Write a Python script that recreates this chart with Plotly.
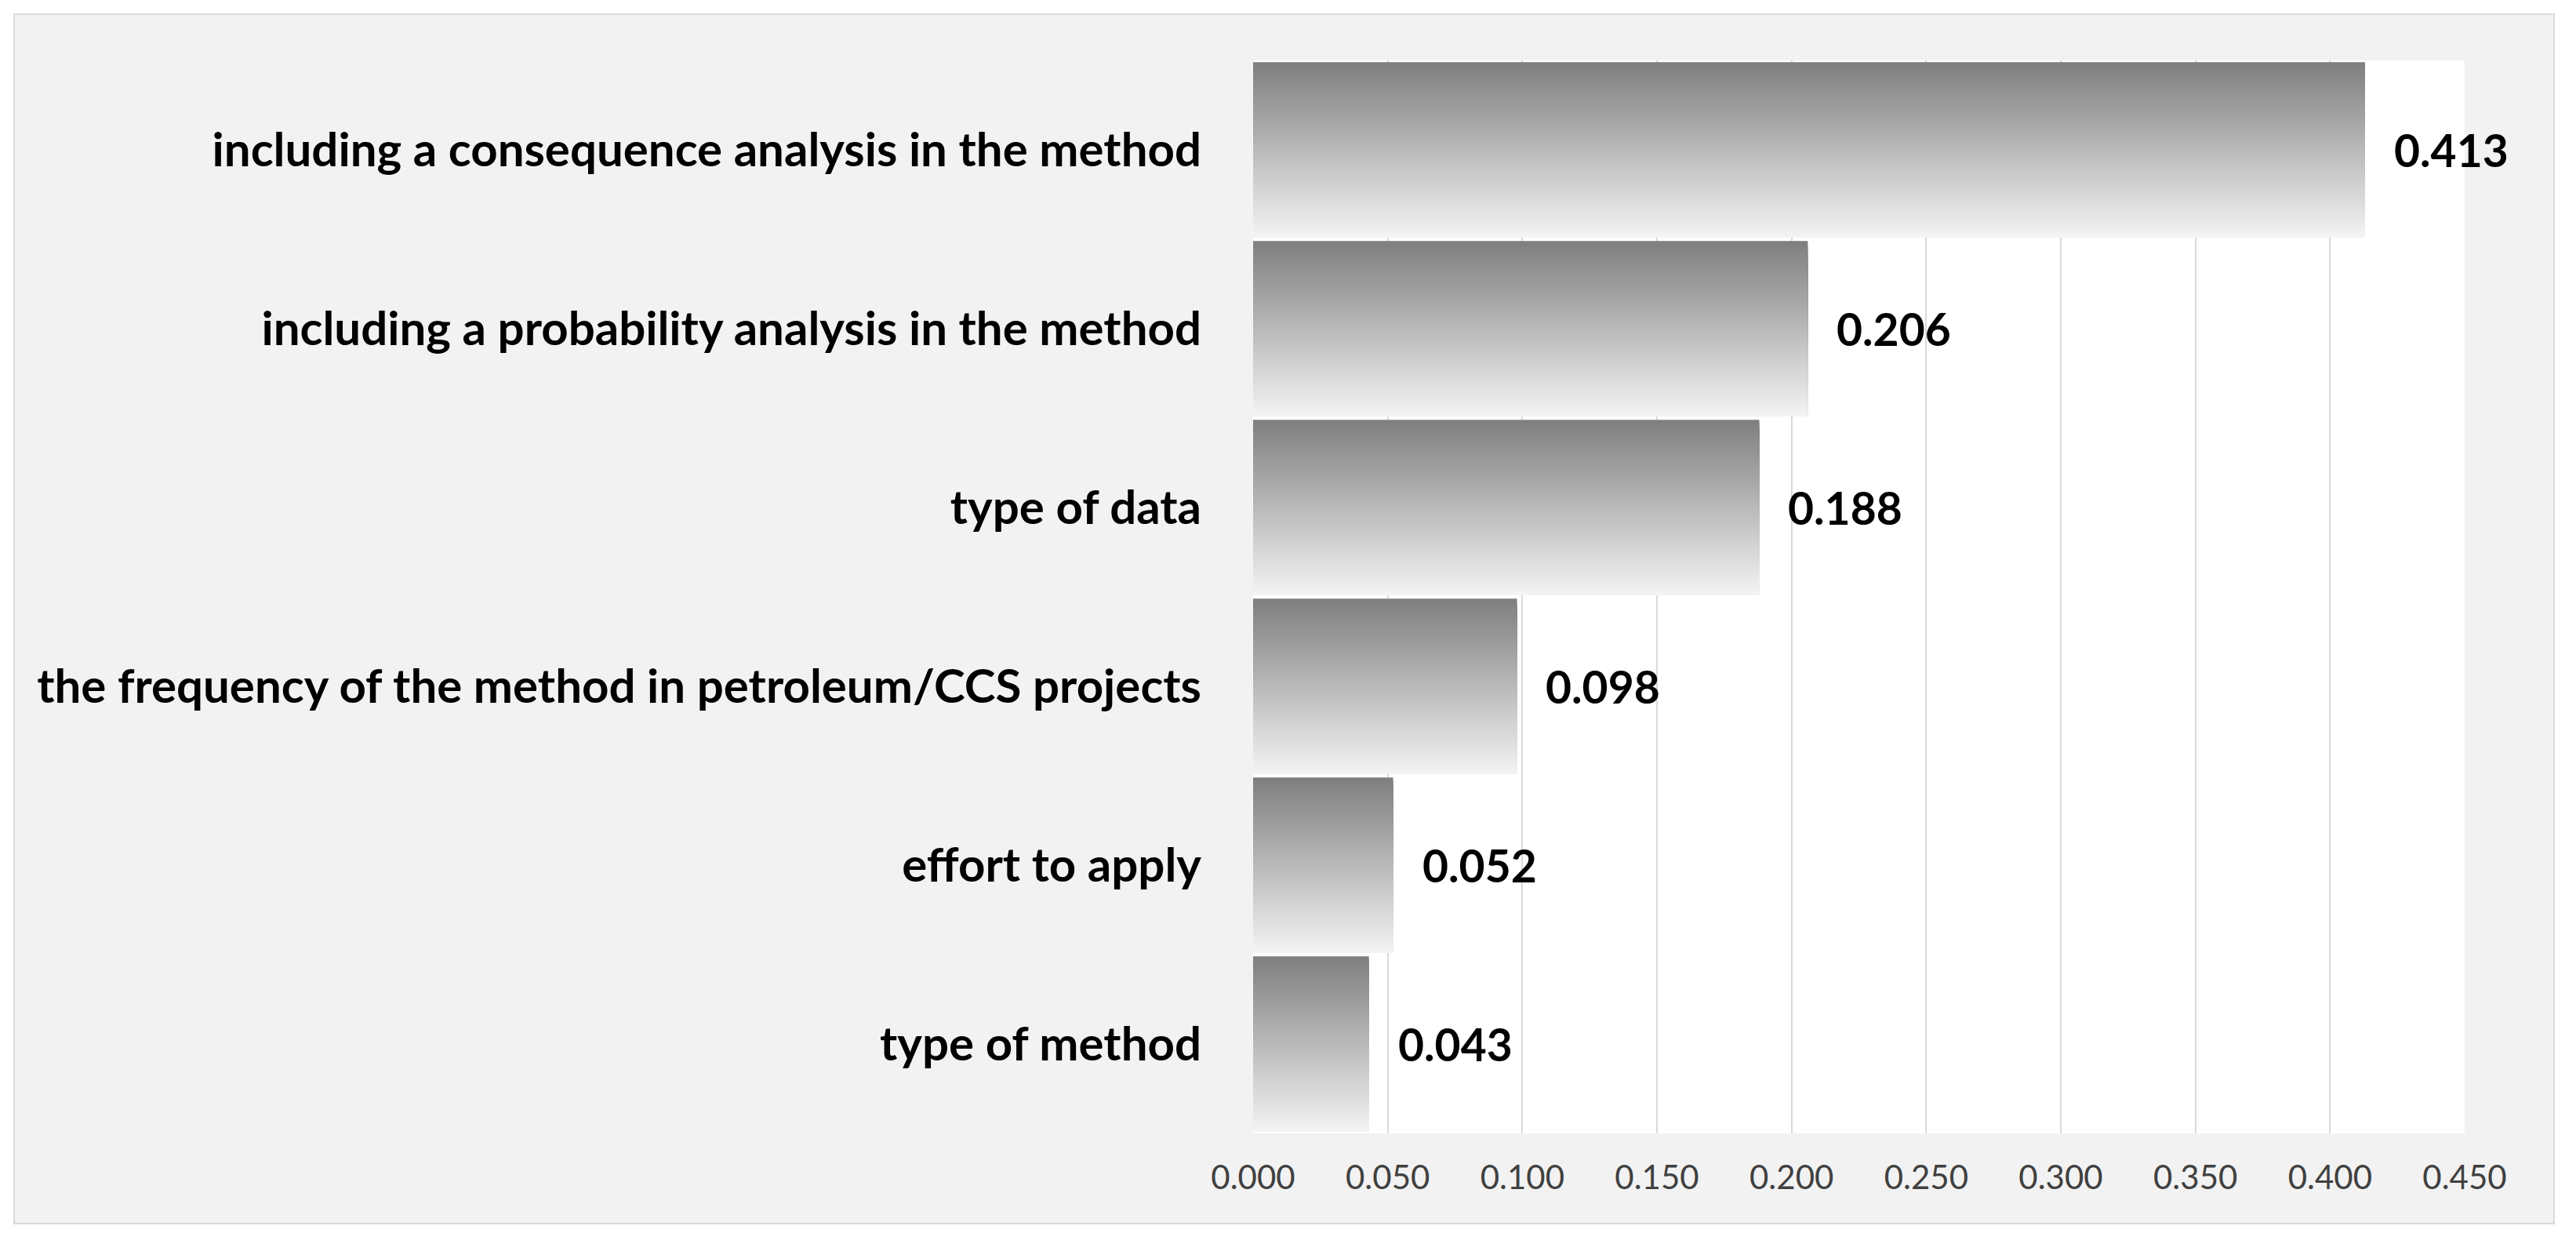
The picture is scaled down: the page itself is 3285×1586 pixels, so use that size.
import plotly.graph_objects as go

# Criteria weights, top bar first
categories = [
    "including a consequence analysis in the method",
    "including a probability analysis in the method",
    "type of data",
    "the frequency of the method in petroleum/CCS projects",
    "effort to apply",
    "type of method",
]
weights = [0.413, 0.206, 0.188, 0.098, 0.052, 0.043]
value_labels = ["0.413", "0.206", "0.188", "0.098", "0.052", "0.043"]

x_ticks = [0.0, 0.05, 0.10, 0.15, 0.20, 0.25, 0.30, 0.35, 0.40, 0.45]
x_tick_labels = ["0.000", "0.050", "0.100", "0.150", "0.200",
                 "0.250", "0.300", "0.350", "0.400", "0.450"]

W, H = 3285, 1586
PLOT_L, PLOT_R, PLOT_T, PLOT_B = 1598, 3143, 77, 1445
FRAME = (18, 18, 3257, 1560)  # left, top, right, bottom in px

BAR_W = 0.98
N_STEPS = 60
DARK, LIGHT = 127, 243

fig = go.Figure()

# gradient fill: stack slices, each running from its offset to the bar's bottom edge
step = BAR_W / N_STEPS
for i in range(N_STEPS):
    t = i / (N_STEPS - 1)
    g = round(DARK + (LIGHT - DARK) * t)
    fig.add_trace(go.Bar(
        x=weights,
        y=categories,
        orientation="h",
        offset=-BAR_W / 2 + i * step,
        width=BAR_W - i * step,
        marker=dict(color=f"rgb({g},{g},{g})", line=dict(width=0)),
        hoverinfo="skip",
        showlegend=False,
    ))

for cat, v, lab in zip(categories, weights, value_labels):
    fig.add_annotation(
        x=v, y=cat, text=f"<b>{lab}</b>", showarrow=False,
        xanchor="left", yanchor="middle", xshift=35,
        font=dict(family="Lato", size=57, color="#000000"),
    )

pw = PLOT_R - PLOT_L
ph = PLOT_B - PLOT_T


def px_x(p):
    return (p - PLOT_L) / pw


def px_y(p):
    return (PLOT_B - p) / ph


# outer grey panel, then white plot area on top of it
fig.add_shape(type="rect", xref="paper", yref="paper", layer="below",
              x0=px_x(FRAME[0]), y0=px_y(FRAME[3]), x1=px_x(FRAME[2]), y1=px_y(FRAME[1]),
              fillcolor="#f2f2f2", line=dict(color="#d9d9d9", width=2))
fig.add_shape(type="rect", xref="paper", yref="paper", layer="below",
              x0=0, y0=0, x1=1, y1=1, fillcolor="#ffffff", line=dict(width=0))

fig.update_layout(
    width=W, height=H,
    margin=dict(l=PLOT_L, r=W - PLOT_R, t=PLOT_T, b=H - PLOT_B, pad=0),
    paper_bgcolor="#ffffff",
    plot_bgcolor="rgba(0,0,0,0)",
    barmode="overlay",
    font=dict(family="Lato", color="#000000"),
)
fig.update_xaxes(
    range=[0, 0.45], tickvals=x_ticks, ticktext=x_tick_labels,
    showgrid=True, gridcolor="#d9d9d9", gridwidth=2,
    zeroline=False, showline=False, ticks="",
    ticklabelstandoff=28,
    tickfont=dict(family="Lato", size=42, color="#404040"),
)
fig.update_yaxes(
    autorange="reversed", showgrid=False, zeroline=False, showline=False,
    ticks="", ticklabelstandoff=65,
    tickfont=dict(family="Lato", size=60, color="#000000"),
)
fig.update_yaxes(tickprefix="<b>", ticksuffix="</b>")

fig.write_html("out.html", config={"displayModeBar": False},
               post_script="document.body.style.margin='0';")
